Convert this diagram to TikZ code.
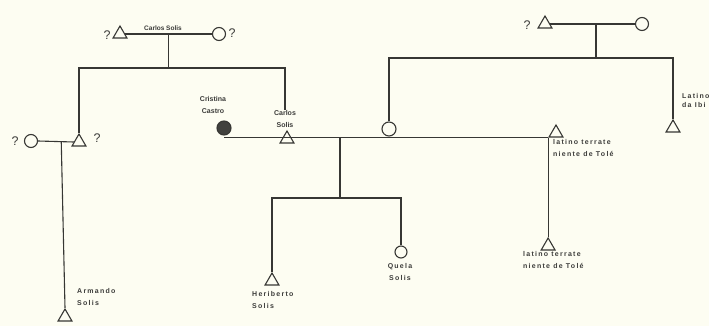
\documentclass[tikz,border=0pt]{standalone}
\usepackage{fontspec}
\setmainfont{Liberation Sans}
\newfontfamily\labN{Liberation Sans}
\newfontfamily\labW[LetterSpace=18]{Liberation Sans}
\usetikzlibrary{shapes.geometric,calc}
\definecolor{bgc}{RGB}{253,253,242}
\definecolor{linec}{RGB}{55,55,52}
\definecolor{txtc}{RGB}{60,60,58}
\definecolor{darkfill}{RGB}{65,65,62}
\begin{document}
\begin{tikzpicture}[x=1pt,y=-1pt,
  ln/.style={draw=linec, line width=1.1pt},
  tri/.style={regular polygon, regular polygon sides=3, minimum size=16pt, inner sep=0pt, draw=linec, line width=1.1pt},
  cir/.style={circle, minimum size=13pt, inner sep=0pt, draw=linec, line width=1.1pt},
  labn/.style={font=\labN\bfseries\fontsize{7}{12}\selectfont, text=txtc, inner sep=0pt, align=center},
  labs/.style={font=\labN\bfseries\fontsize{6.5}{8}\selectfont, text=txtc, inner sep=0pt},
  labw/.style={font=\labW\bfseries\fontsize{7}{12}\selectfont, text=txtc, inner sep=0pt, align=left},
  labc/.style={font=\labW\bfseries\fontsize{7}{12}\selectfont, text=txtc, inner sep=0pt, align=center},
  labe/.style={font=\labW\bfseries\fontsize{7}{9}\selectfont, text=txtc, inner sep=0pt, align=left},
  qm/.style={font=\fontsize{12.5}{12.5}\selectfont, text=txtc, inner sep=0pt}]
\fill[bgc] (0,0) rectangle (709,326);
\useasboundingbox (0,0) rectangle (709,326);
% helper heights
\coordinate (h1) at (0,68);
\coordinate (h2) at (0,58);
\coordinate (h3) at (0,198);
% top-left couple
\node[tri] (tA) at (120,34) {};
\node[cir] (cA) at (219,34) {};
\node[qm] (qA) at (107,35) {?};
\node[qm] (qB) at (232,33) {?};
\node[labs] (lTop) at (163,28) {Carlos Solis};
\draw[ln] (tA.east) -- (cA.west);
\coordinate (j1) at ($(tA.east)!0.5!(cA.west)$);
\draw[ln] (j1) -- (j1 |- h1);
% left couple
\node[tri] (tB) at (79,142) {};
\node[cir] (cB) at (31,141) {};
\node[qm] (qC) at (15,141) {?};
\node[qm] (qD) at (97,138) {?};
\draw[ln] (cB.east) -- (tB.west);
\coordinate (j2) at ($(cB.east)!0.65!(tB.west)$);
% Armando
\node[tri] (tArm) at (65,317) {};
\node[labw, anchor=north west] (lArm) at (77,288) {Armando\\Solis};
\draw[ln] (j2) -- (tArm.north);
% Cristina and Carlos
\node[cir, fill=darkfill, minimum size=14pt] (cc) at (224,128) {};
\node[labn] (lCr) at (213,105) {Cristina\\Castro};
\node[tri] (tCS) at (287,139) {};
\node[labn] (lCS) at (285,119) {Carlos\\Solis};
% bar 1
\draw[ln] (tB.north) -- (tB.north |- h1) -- (lCS.north |- h1) -- (lCS.north);
% marriage line
\node[tri] (tG) at (556,133) {};
\node[labw, anchor=north west] (lG) at (553,139) {latino terrate\\niente de Tolé};
\coordinate (m1) at ([yshift=-2pt]cc.south);
\draw[ln] (m1) -- (m1 -| tG.corner 2) -- (tG.corner 2);
\node[cir, minimum size=14pt] (cM) at (389,129) {};
% lower-right triangle
\node[tri] (tF) at (tG.corner 2 |- {0,246}) {};
\node[labw, anchor=north west] (lF) at (523,251) {latino terrate\\niente de Tolé};
\draw[ln] (tG.corner 2) -- (tF.north);
% children of Cristina and Carlos
\coordinate (j3) at (m1 -| {340,0});
\draw[ln] (j3) -- (j3 |- h3);
\node[tri] (tH) at (272,281) {};
\node[labw, anchor=north west] (lH) at (252,291) {Heriberto\\Solis};
\node[cir, minimum size=12pt] (cQ) at (401,252) {};
\node[labc] (lQ) at (400,272) {Quela\\Solis};
\draw[ln] (tH.north) -- (tH.north |- h3) -- (cQ.north |- h3) -- (cQ.north);
% top-right couple
\node[tri] (tC) at (545,24) {};
\node[cir] (cD) at (642,24) {};
\node[qm] (qE) at (527,25) {?};
\draw[ln] (tC.east) -- (cD.west);
\coordinate (j4) at ($(tC.east)!0.54!(cD.west)$);
\draw[ln] (j4) -- (j4 |- h2);
% right triangle
\node[tri] (tE) at (673,128) {};
\node[labe, anchor=north west] (lE) at (682,93) {Latino\\da Ibi};
% bar 2
\draw[ln] (cM.north) -- (cM.north |- h2) -- (tE.north |- h2) -- (tE.north);
\end{tikzpicture}
\end{document}
